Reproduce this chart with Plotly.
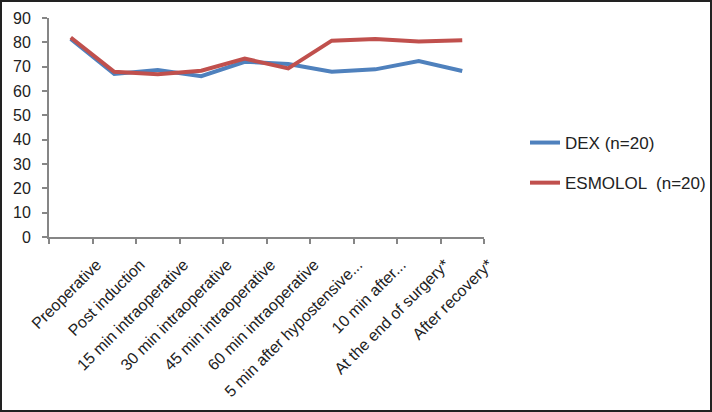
import plotly.graph_objects as go

# Time points (x-axis categories)
categories = [
    "Preoperative",
    "Post induction",
    "15 min intraoperative",
    "30 min intraoperative",
    "45 min intraoperative",
    "60 min intraoperative",
    "5 min after hypostensive...",
    "10 min after...",
    "At the end of surgery*",
    "After recovery*",
]

# Series values
dex_values = [81.4, 67.0, 68.6, 66.1, 72.0, 71.1, 67.9, 68.9, 72.3, 68.2]
esmolol_values = [82.0, 67.9, 66.9, 68.3, 73.3, 69.3, 80.7, 81.4, 80.3, 80.9]

y_ticks = [0, 10, 20, 30, 40, 50, 60, 70, 80, 90]

fig = go.Figure()

fig.add_trace(go.Scatter(
    x=categories, y=dex_values, name="DEX (n=20)", mode="lines",
    line=dict(color="#4F81BD", width=4), legendgroup="a",
))
fig.add_trace(go.Scatter(
    x=categories, y=esmolol_values, name="ESMOLOL  (n=20)", mode="lines",
    line=dict(color="#C0504D", width=4), legendgroup="b",
))

# plot area in pixels
W, H = 712, 412
L, R, T, B = 49, 228, 18, 175
pw, ph = W - L - R, H - T - B

fig.update_layout(
    width=W, height=H,
    margin=dict(l=L, r=R, t=T, b=B, pad=0, autoexpand=False),
    paper_bgcolor="white",
    plot_bgcolor="white",
    font=dict(family="Liberation Sans, Arial, sans-serif", size=16, color="#222222"),
    showlegend=True,
    legend=dict(
        x=(525 - L) / pw, y=(T + ph - 163) / ph, xanchor="left", yanchor="middle",
        font=dict(size=17, color="#222222"),
        tracegroupgap=15, bgcolor="rgba(0,0,0,0)",
    ),
    xaxis=dict(
        type="category", range=[-0.5, 9.5],
        tickmode="array", tickvals=categories, ticktext=categories,
        tickangle=-45, showgrid=False, zeroline=False,
        showline=True, linecolor="#868686", linewidth=2,
        ticks="outside", ticklen=5, tickcolor="#868686", tickwidth=2,
        tickson="boundaries", tickfont=dict(size=16),
        ticklabelshift=26, ticklabelstandoff=10,
    ),
    yaxis=dict(
        range=[0, 90], tickvals=y_ticks, showgrid=False, zeroline=False,
        showline=True, linecolor="#868686", linewidth=2,
        ticks="outside", ticklen=5, tickcolor="#868686", tickwidth=2,
        tickfont=dict(size=16), ticklabelstandoff=8,
    ),
    shapes=[dict(
        type="rect", xref="paper", yref="paper",
        x0=-L / pw + 1 / pw, x1=1 + (R - 1) / pw,
        y0=-(B - 1) / ph, y1=1 + (T - 1) / ph,
        line=dict(color="#222222", width=2), fillcolor="rgba(0,0,0,0)",
        layer="below",
    )],
)

fig.write_html("out.html", post_script="document.body.style.margin='0';",
               config={"displayModeBar": False})
